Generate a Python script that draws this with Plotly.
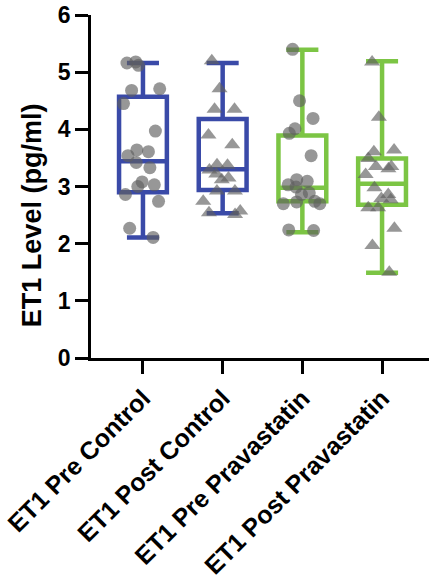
import plotly.graph_objects as go

categories = ["ET1 Pre Control", "ET1 Post Control", "ET1 Pre Pravastatin", "ET1 Post Pravastatin"]

pre_control = [5.18, 5.16, 5.12, 4.71, 4.68, 4.45, 3.97, 3.64, 3.61, 3.54, 3.42, 3.33, 3.08, 3.03, 3.00, 2.86, 2.74, 2.27, 2.11]
post_control = [5.20, 4.71, 4.35, 4.35, 3.90, 3.73, 3.38, 3.37, 3.29, 3.22, 3.15, 3.12, 2.92, 2.92, 2.74, 2.57, 2.54, 2.51]
pre_prava = [5.40, 4.50, 4.19, 4.01, 3.93, 3.54, 3.12, 3.09, 3.03, 2.99, 2.89, 2.86, 2.74, 2.73, 2.70, 2.70, 2.24, 2.23]
post_prava = [5.18, 4.21, 3.64, 3.61, 3.49, 3.35, 3.35, 3.31, 3.21, 2.98, 2.86, 2.79, 2.77, 2.63, 2.63, 2.27, 1.97, 1.50]
series_values = [pre_control, post_control, pre_prava, post_prava]

# box statistics as drawn
box_lower = [2.11, 2.53, 2.20, 1.49]
box_q1 = [2.90, 2.94, 2.74, 2.68]
box_median = [3.44, 3.30, 2.98, 3.05]
box_q3 = [4.57, 4.18, 3.89, 3.49]
box_upper = [5.16, 5.16, 5.39, 5.19]

y_ticks = [0, 1, 2, 3, 4, 5, 6]
y_title = "ET1 Level (pg/ml)"

BLUE = "#3a4aa8"
GREEN = "#7cc544"
colors = [BLUE, BLUE, GREEN, GREEN]
symbols = ["circle", "triangle-up", "circle", "triangle-up"]
sizes = [13, 14, 13, 14]

FONT = "Liberation Sans, Arial, sans-serif"

fig = go.Figure()
for i, cat in enumerate(categories):
    fig.add_trace(go.Box(
        x=[cat], q1=[box_q1[i]], median=[box_median[i]], q3=[box_q3[i]],
        lowerfence=[box_lower[i]], upperfence=[box_upper[i]],
        line=dict(color=colors[i], width=4.5), fillcolor="rgba(255,255,255,0)",
        whiskerwidth=0.67, width=0.6, boxpoints=False, hoverinfo="skip",
        showlegend=False,
    ))
    fig.add_trace(go.Box(
        x=[cat] * len(series_values[i]), y=series_values[i],
        boxpoints="all", jitter=1.0, pointpos=0, width=0.6,
        line=dict(color="rgba(0,0,0,0)", width=0), fillcolor="rgba(0,0,0,0)",
        marker=dict(symbol=symbols[i], size=sizes[i], color="rgba(95,95,95,0.65)",
                    line=dict(width=0)),
        hoverinfo="skip", showlegend=False,
    ))

fig.add_annotation(
    text=y_title, textangle=-90, xref="paper", yref="paper",
    x=-0.175, y=0.416, xanchor="center", yanchor="middle", showarrow=False,
    font=dict(size=27, family=FONT, weight="bold", color="black"),
)

fig.update_layout(
    width=429, height=579,
    margin=dict(l=91, r=0, t=15, b=218),
    paper_bgcolor="white", plot_bgcolor="white",
    boxmode="overlay",
    font=dict(family=FONT, color="black"),
    xaxis=dict(
        type="category", categoryorder="array", categoryarray=categories,
        range=[-0.652, 3.589], showline=True, linecolor="black", linewidth=2.5,
        ticks="outside", ticklen=13, tickwidth=2.5, tickcolor="black",
        tickangle=-45, showgrid=False, zeroline=False,
        tickfont=dict(size=25, family=FONT, weight="bold"),
    ),
    yaxis=dict(
        range=[0, 6], tickvals=y_ticks, showline=True, linecolor="black", linewidth=2.5,
        ticks="outside", ticklen=13, tickwidth=2.5, tickcolor="black",
        showgrid=False, zeroline=False,
        tickfont=dict(size=23, family=FONT, weight="bold"),
    ),
)

fig.write_html("out.html", config={"displayModeBar": False},
               post_script="document.body.style.margin='0';")
